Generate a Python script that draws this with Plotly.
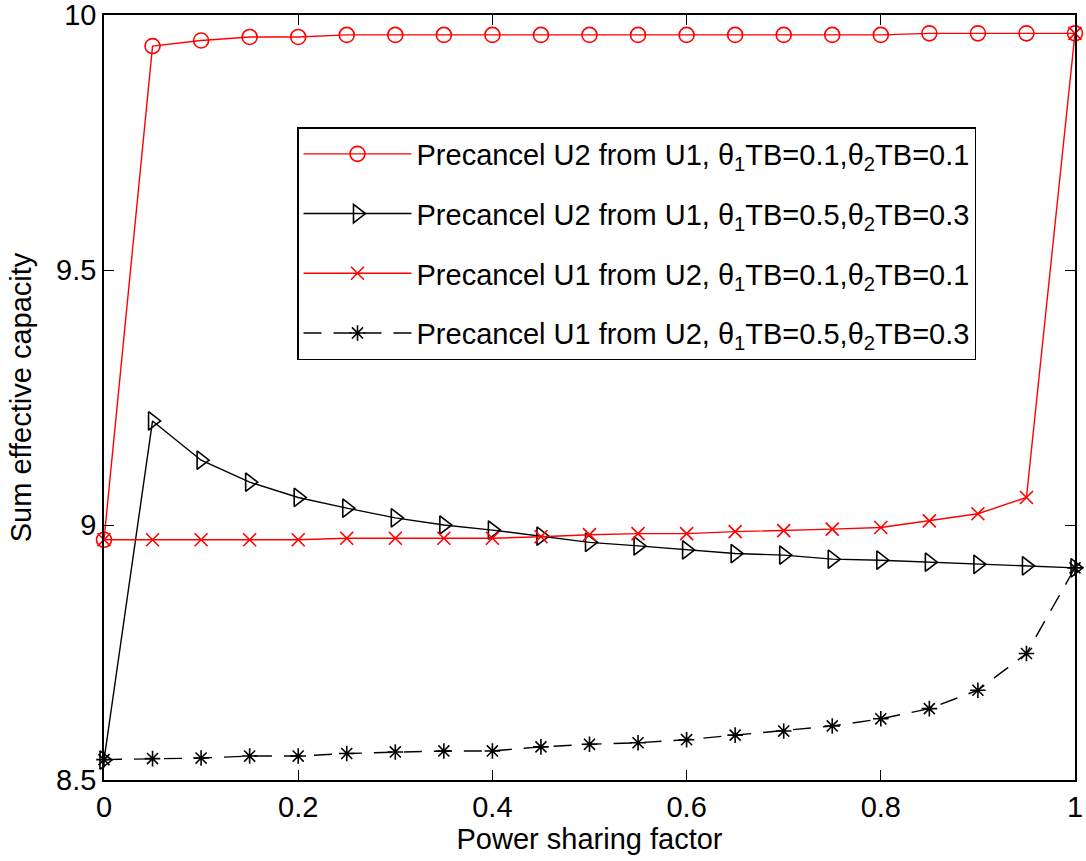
import plotly.graph_objects as go

x = [0, 0.05, 0.1, 0.15, 0.2, 0.25, 0.3, 0.35, 0.4, 0.45, 0.5,
     0.55, 0.6, 0.65, 0.7, 0.75, 0.8, 0.85, 0.9, 0.95, 1.0]

u2_from_u1_low = [8.971, 9.939, 9.950, 9.957, 9.957, 9.961, 9.961, 9.961, 9.961, 9.961, 9.961,
                  9.961, 9.961, 9.961, 9.961, 9.961, 9.961, 9.964, 9.964, 9.964, 9.964]
u2_from_u1_high = [8.539, 9.204, 9.127, 9.084, 9.054, 9.033, 9.014, 9.000, 8.990, 8.978, 8.966,
                   8.959, 8.951, 8.944, 8.941, 8.933, 8.931, 8.927, 8.923, 8.920, 8.916]
u1_from_u2_low = [8.971, 8.971, 8.971, 8.971, 8.971, 8.974, 8.974, 8.974, 8.974, 8.977, 8.981,
                  8.983, 8.983, 8.987, 8.989, 8.992, 8.995, 9.008, 9.022, 9.054, 9.964]
u1_from_u2_high = [8.540, 8.542, 8.543, 8.547, 8.547, 8.552, 8.555, 8.557, 8.557, 8.565, 8.570,
                   8.573, 8.579, 8.588, 8.596, 8.606, 8.620, 8.640, 8.676, 8.748, 8.916]

names = [
    "Precancel U2 from U1, θ<sub>1</sub>TB=0.1,θ<sub>2</sub>TB=0.1",
    "Precancel U2 from U1, θ<sub>1</sub>TB=0.5,θ<sub>2</sub>TB=0.3",
    "Precancel U1 from U2, θ<sub>1</sub>TB=0.1,θ<sub>2</sub>TB=0.1",
    "Precancel U1 from U2, θ<sub>1</sub>TB=0.5,θ<sub>2</sub>TB=0.3",
]
x_ticks = [0, 0.2, 0.4, 0.6, 0.8, 1]
x_tick_labels = ["0", "0.2", "0.4", "0.6", "0.8", "1"]
y_ticks = [8.5, 9, 9.5, 10]
y_tick_labels = ["8.5", "9", "9.5", "10"]

RED = "#ff0000"
BLK = "#000000"

fig = go.Figure()
fig.add_trace(go.Scatter(x=x, y=u2_from_u1_low, name=names[0], mode="lines+markers", legendgroup="a",
                         line=dict(color=RED, width=1.4),
                         marker=dict(symbol="circle-open", size=15, color=RED, line=dict(width=1.6)),
                         cliponaxis=False))
fig.add_trace(go.Scatter(x=x, y=u2_from_u1_high, name=names[1], mode="lines+markers", legendgroup="b",
                         line=dict(color=BLK, width=1.4),
                         marker=dict(symbol="triangle-right-open", size=16, color=BLK, line=dict(width=1.6)),
                         cliponaxis=False))
fig.add_trace(go.Scatter(x=x, y=u1_from_u2_low, name=names[2], mode="lines+markers", legendgroup="c",
                         line=dict(color=RED, width=1.4),
                         marker=dict(symbol="x-thin-open", size=13, color=RED, line=dict(width=1.6)),
                         cliponaxis=False))
fig.add_trace(go.Scatter(x=x, y=u1_from_u2_high, name=names[3], mode="lines+markers", legendgroup="d",
                         line=dict(color=BLK, width=1.4, dash="18px,12px"),
                         marker=dict(symbol="asterisk-open", size=13, color=BLK, line=dict(width=1.6)),
                         cliponaxis=False))

FONT = "Liberation Sans, Arial, sans-serif"
FS = 29
fig.update_layout(
    width=1086, height=861,
    paper_bgcolor="white", plot_bgcolor="white",
    margin=dict(l=104, r=11, t=15, b=81, pad=0),
    font=dict(family=FONT, size=FS, color="black"),
    showlegend=True,
    legend=dict(x=(297 - 104) / 971, y=(780 - 127) / 765, xanchor="left", yanchor="top",
                bgcolor="white", bordercolor="black", borderwidth=1.5,
                font=dict(family=FONT, size=29, color="black"),
                itemwidth=108, tracegroupgap=19, itemsizing="trace"),
    xaxis=dict(range=[0, 1], tickvals=x_ticks, ticktext=x_tick_labels,
               showline=True, linecolor="black", linewidth=1.5, mirror="ticks",
               ticks="inside", ticklen=10, tickwidth=1.2, tickcolor="black",
               showgrid=False, zeroline=False, automargin=False, ticklabeloverflow="allow",
               title=dict(text="Power sharing factor", font=dict(size=FS), standoff=6),
               tickfont=dict(size=FS)),
    yaxis=dict(range=[8.5, 10], tickvals=y_ticks, ticktext=y_tick_labels,
               showline=True, linecolor="black", linewidth=1.5, mirror="ticks",
               ticks="inside", ticklen=10, tickwidth=1.2, tickcolor="black",
               showgrid=False, zeroline=False, automargin=False, ticklabeloverflow="allow",
               title=dict(text="Sum effective capacity", font=dict(size=FS), standoff=16),
               tickfont=dict(size=FS)),
)

fig.write_html("out.html", config={"displayModeBar": False},
               post_script="document.body.style.margin='0';")
